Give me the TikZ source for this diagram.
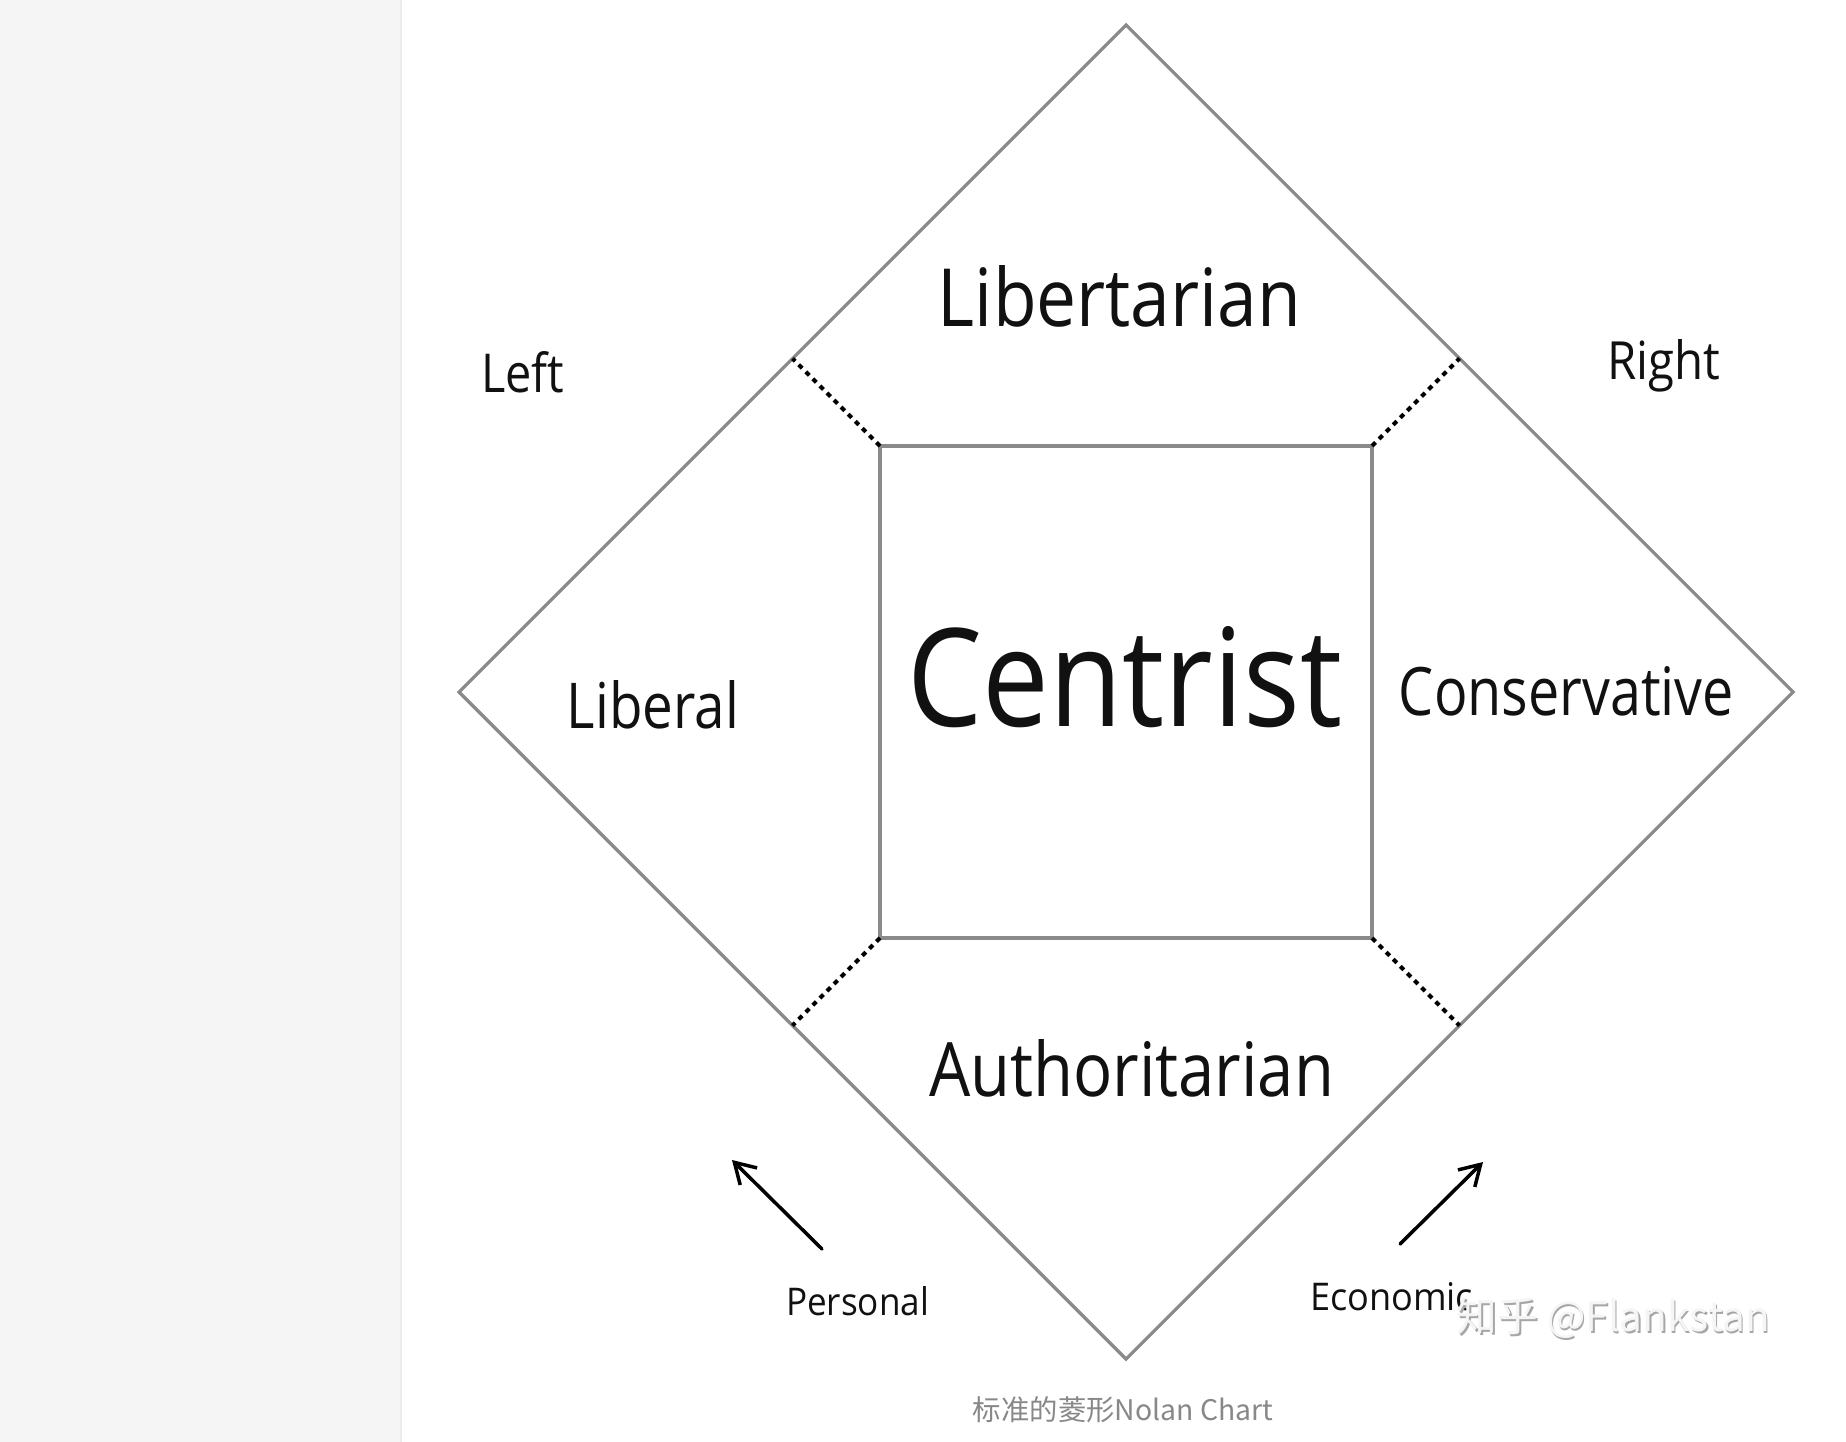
\documentclass[tikz,border=0pt]{standalone}
\usepackage{graphicx}
\usepackage{fontspec}
\setmainfont{Open Sans}
\newfontfamily\cjk{Noto Sans CJK SC}
\usetikzlibrary{arrows.meta}
\definecolor{edgegray}{HTML}{8A8A8A}
\definecolor{panelgray}{HTML}{F5F5F5}
\definecolor{capgray}{HTML}{888888}
\definecolor{inkblack}{HTML}{111111}
\newcommand{\fitbox}[3]{\resizebox{#1pt}{#2pt}{#3}}
\tikzset{
  frameline/.style={draw=edgegray, line width=3.2pt, line join=miter},
  dotline/.style={draw=black, line width=4pt, dash pattern=on 5pt off 5pt},
  axisarrow/.style={draw=black, line width=3.5pt, line cap=round, -{Straight Barb[length=20pt,width=24pt,line width=3.5pt]}},
  word/.style={inner sep=0pt, anchor=base, text=inkblack},
}
\begin{document}
\begin{tikzpicture}[x=1pt,y=-1pt]
\useasboundingbox (0,0) rectangle (1846,1442);
\fill[white] (0,0) rectangle (1846,1442);
\fill[panelgray] (0,0) rectangle (401,1442);
\draw[color=black!8, line width=2pt] (401,0) -- (401,1442);
% diamond
\coordinate (c) at (1126,692);
\coordinate (dT) at (1126,25);
\coordinate (dL) at (459,692);
\coordinate (dR) at (1793,692);
\coordinate (dB) at (1126,1359);
\draw[frameline] (dT) -- (dR) -- (dB) -- (dL) -- cycle;
% centre square
\coordinate (sTL) at (880,446);
\coordinate (sTR) at (1372,446);
\coordinate (sBR) at (1372,938);
\coordinate (sBL) at (880,938);
\draw[frameline] (sTL) -- (sTR) -- (sBR) -- (sBL) -- cycle;
% edge points
\coordinate (eTL) at (792.5,358.5);
\coordinate (eTR) at (1459.5,358.5);
\coordinate (eBR) at (1459.5,1025.5);
\coordinate (eBL) at (792.5,1025.5);
\draw[dotline] (sTL) -- (eTL);
\draw[dotline] (sTR) -- (eTR);
\draw[dotline] (sBR) -- (eBR);
\draw[dotline] (sBL) -- (eBL);
% labels
\node[word] (lib) at (1119.5,326) {\fitbox{363}{61}{Libertarian}};
\node[word] (cen) at (1125,726) {\fitbox{434}{100}{Centrist}};
\node[word] (con) at (1566.5,715) {\fitbox{335}{49}{Conservative}};
\node[word] (libl) at (653,728) {\fitbox{172}{48}{Liberal}};
\node[word] (aut) at (1131.5,1096) {\fitbox{405}{57}{Authoritarian}};
\node[word] (left) at (522.5,392) {\fitbox{83}{41}{Left}};
\node[word] (right) at (1663.5,379) {\fitbox{113}{40}{Right}};
\node[word] (pers) at (857.5,1315) {\fitbox{143}{29}{Personal}};
\node[word] (econ) at (1391.5,1310) {\fitbox{163}{28}{Economic}};
% arrows
\coordinate (pTail) at (822,1249);
\coordinate (pTip) at (732,1160);
\coordinate (eTail) at (1400,1244);
\coordinate (eTip) at (1483,1162);
\draw[axisarrow] (pTail) -- (pTip);
\draw[axisarrow] (eTail) -- (eTip);
% watermark
\node[inner sep=0pt, anchor=base, text=black!35] (wm0) at (1615,1333) {\resizebox{313pt}{!}{\cjk 知乎 @Flankstan}};
\node[inner sep=0pt, anchor=base, text=white!96!black] (wm) at (1613.5,1331) {\resizebox{313pt}{!}{\cjk 知乎 @Flankstan}};
% caption
\node[inner sep=0pt, anchor=base, text=capgray] (cap) at (1123,1420) {\resizebox{300pt}{!}{\cjk 标准的菱形Nolan Chart}};
\end{tikzpicture}
\end{document}
